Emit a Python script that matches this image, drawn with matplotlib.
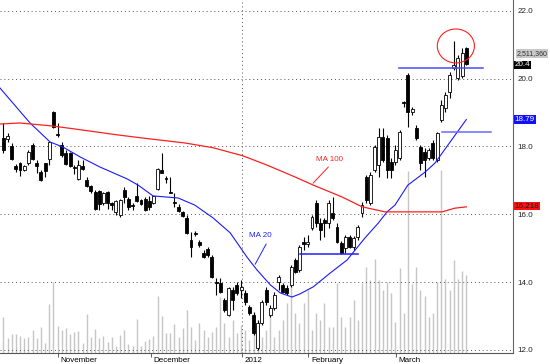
import numpy as np
import matplotlib
matplotlib.use('Agg')
import matplotlib.pyplot as plt
from matplotlib import transforms
from matplotlib.patches import Ellipse

plt.rcParams['font.family'] = ['Liberation Sans', 'DejaVu Sans']

# 日足データ（チャートから読み取り）
opens = [18.25, 18.22, 18.01, 17.42, 17.51, 17.30, 17.51, 18.04, 17.51, 17.25,
         17.51, 17.63, 19.01, 18.37, 18.04, 17.81, 17.81, 17.39, 17.04, 17.42,
         17.01, 16.83, 16.66, 16.69, 16.33, 16.66, 16.33, 16.07, 15.98, 16.72,
         16.45, 16.27, 16.54, 16.42, 16.45, 16.39, 16.33, 16.74, 17.30, 17.07,
         16.66, 16.36, 16.21, 16.07, 15.89, 15.24, 15.45, 15.18, 14.86, 14.98,
         14.74, 14.00, 13.97, 13.47, 13.03, 13.77, 13.92, 13.77, 13.68, 13.27,
         13.03, 12.06, 12.80, 13.77, 13.03, 13.24, 14.00, 13.92, 13.83, 13.92,
         14.65, 14.36, 15.18, 15.12, 15.60, 16.33, 15.74, 15.83, 15.74, 16.04,
         15.63, 15.15, 15.01, 15.33, 15.04, 15.33, 16.04, 17.10, 16.33, 17.30,
         17.45, 18.28, 18.25, 17.54, 17.54, 17.66, 19.31, 20.10, 19.01, 18.54,
         17.98, 17.84, 17.66, 18.10, 17.60, 18.78, 19.13, 19.60, 20.31, 20.02,
         20.08, 20.90]
closes = [17.89, 18.31, 17.63, 17.33, 17.30, 17.42, 17.84, 17.63, 17.42, 17.01,
          17.28, 18.13, 18.57, 18.34, 17.75, 17.48, 17.42, 17.36, 17.45, 17.33,
          16.83, 16.69, 16.16, 16.30, 16.63, 16.33, 16.27, 16.39, 16.42, 16.51,
          16.21, 16.24, 16.39, 16.30, 16.13, 16.21, 16.54, 17.33, 17.22, 17.04,
          16.63, 16.33, 16.10, 15.95, 15.45, 15.04, 15.42, 15.09, 14.74, 14.80,
          14.15, 13.97, 13.71, 13.18, 13.83, 13.47, 13.68, 13.86, 13.41, 13.09,
          12.50, 12.80, 13.41, 13.41, 13.24, 13.62, 14.15, 13.71, 13.68, 14.45,
          14.30, 15.04, 15.12, 15.18, 15.92, 15.74, 15.54, 15.74, 16.33, 15.89,
          15.18, 14.86, 15.33, 15.04, 15.30, 15.63, 16.27, 16.42, 17.16, 17.98,
          18.28, 17.60, 17.30, 17.30, 17.89, 18.42, 19.28, 19.01, 19.10, 18.25,
          17.51, 17.60, 17.89, 17.66, 18.40, 19.22, 19.52, 20.10, 20.40, 20.61,
          20.75, 20.43]
highs = [18.69, 18.40, 18.10, 17.48, 17.54, 17.45, 17.89, 18.10, 17.60, 17.30,
         17.51, 18.13, 19.04, 18.69, 18.13, 17.89, 17.84, 17.45, 17.60, 17.60,
         17.10, 16.86, 16.72, 16.72, 16.66, 16.69, 16.36, 16.42, 16.45, 16.80,
         16.51, 16.33, 16.92, 16.45, 16.51, 16.54, 16.54, 17.36, 17.81, 17.13,
         17.10, 16.63, 16.30, 16.10, 15.98, 15.48, 15.51, 15.24, 14.95, 15.04,
         14.80, 14.12, 14.12, 13.53, 13.86, 13.86, 14.00, 14.06, 13.77, 13.33,
         13.12, 12.88, 13.47, 13.86, 13.33, 13.71, 14.21, 13.97, 13.92, 14.50,
         14.71, 15.09, 15.33, 15.39, 15.98, 16.42, 15.89, 15.89, 16.42, 16.51,
         15.74, 15.21, 15.39, 15.39, 15.36, 15.69, 16.36, 17.16, 17.25, 18.04,
         18.54, 18.54, 18.34, 17.66, 18.04, 18.48, 19.34, 20.16, 19.16, 18.63,
         18.04, 17.95, 17.95, 18.19, 18.42, 19.37, 19.60, 20.19, 21.11, 20.69,
         20.90, 20.93]
lows = [17.81, 18.13, 17.60, 17.25, 17.13, 17.28, 17.45, 17.60, 17.22, 16.98,
        17.10, 17.45, 18.54, 18.28, 17.69, 17.45, 17.39, 17.19, 17.01, 17.30,
        16.80, 16.63, 16.13, 16.13, 16.27, 16.16, 16.13, 15.98, 15.92, 16.33,
        16.13, 16.13, 16.36, 16.27, 16.10, 16.13, 16.30, 16.72, 17.22, 16.92,
        16.63, 16.21, 16.07, 15.92, 15.42, 14.74, 15.36, 15.04, 14.71, 14.74,
        14.12, 13.62, 13.68, 13.12, 13.00, 13.18, 13.62, 13.53, 13.33, 13.03,
        12.44, 12.00, 12.74, 13.33, 12.97, 13.18, 13.77, 13.68, 13.62, 13.86,
        14.27, 14.30, 14.95, 15.04, 15.54, 15.63, 15.24, 15.33, 15.60, 15.83,
        15.15, 14.83, 14.86, 15.01, 14.95, 15.24, 15.92, 16.33, 16.27, 17.25,
        17.10, 17.54, 17.07, 17.07, 17.45, 17.60, 19.16, 18.57, 18.93, 18.19,
        17.30, 17.10, 17.60, 17.60, 17.54, 18.72, 19.01, 19.43, 20.25, 19.96,
        20.02, 20.40]
# 出来高（百万株）
volume_m = [1.16, 0.48, 0.61, 0.61, 0.55, 0.48, 0.52, 0.74, 0.48, 0.84,
            0.32, 1.58, 2.29, 0.87, 0.74, 0.80, 0.61, 0.68, 0.71, 0.32,
            1.26, 0.52, 0.77, 0.48, 0.55, 0.35, 0.52, 0.23, 0.58, 0.74,
            0.29, 0.23, 1.09, 0.23, 0.39, 0.45, 0.55, 1.84, 1.19, 0.64,
            0.64, 0.93, 0.52, 0.80, 1.38, 0.84, 0.42, 0.97, 0.74, 0.52,
            0.68, 0.84, 1.80, 0.97, 0.52, 1.06, 0.64, 0.90, 0.74, 0.42,
            1.29, 1.06, 0.52, 0.74, 1.29, 0.52, 0.74, 1.06, 1.61, 2.25,
            1.29, 0.97, 1.61, 2.03, 0.74, 1.29, 1.06, 1.61, 0.84, 0.84,
            2.25, 1.16, 0.84, 1.16, 1.71, 1.06, 2.25, 2.77, 2.35, 3.03,
            2.35, 2.03, 2.29, 1.93, 1.00, 2.74, 1.29, 5.86, 2.22, 2.77,
            2.03, 1.84, 1.16, 1.29, 2.29, 5.89, 2.38, 2.03, 2.99, 2.38,
            2.64, 2.51]

# 移動平均（読み取り値：バー番号, 値）
ma20_idx = [-0.8, 6.4, 11.2, 14.3, 18.4, 23.2, 29.7, 32.3, 35.9, 41.9, 45.9, 50.3,
            54.4, 58.4, 60.8, 64.0, 66.4, 69.2, 71.1, 74.3, 78.4, 82.4, 86.7, 89.9,
            92.0, 93.9, 97.0, 101.1, 103.5, 106.6, 111]
ma20_val = [19.72, 18.69, 18.13, 17.98, 17.69, 17.39, 17.04, 16.86, 16.54, 16.48, 16.27, 15.89,
            15.45, 14.74, 14.36, 13.92, 13.68, 13.56, 13.65, 13.86, 14.27, 14.65, 15.30, 15.74,
            16.07, 16.27, 16.86, 17.24, 17.51, 18.04, 18.79]
ma100_idx = [-0.8, 4.0, 11.9, 19.1, 27.3, 35.2, 43.6, 50.3, 57.5, 63.2, 69.9, 74.3,
             81.2, 86.0, 91.5, 98.7, 105.2, 108.3, 111]
ma100_val = [18.66, 18.69, 18.60, 18.48, 18.34, 18.22, 18.10, 17.96, 17.72, 17.45, 17.10, 16.86,
             16.51, 16.22, 16.07, 16.07, 16.07, 16.18, 16.218]

month_pos = [13, 35.3, 57.2, 73.1, 94.1]
month_labels = ['November', 'December', '2012', 'February', 'March']
price_ticks = [12.0, 14.0, 16.0, 18.0, 20.0, 22.0]

fig = plt.figure(figsize=(5.5, 3.64), dpi=100)
ax = fig.add_axes([0, 11 / 364, 513 / 550, 353 / 364])
ax2 = ax.twinx()
ax.set_zorder(2)
ax2.set_zorder(1)
ax.patch.set_visible(False)

x = np.arange(len(opens))
o = np.array(opens)
c = np.array(closes)

# 出来高
ax2.vlines(x, 0, volume_m, color='#c6c6c6', lw=1.0)
ax2.set_ylim(0, 11.365)
ax2.set_yticks([])
for s in ax2.spines.values():
    s.set_visible(False)

# グリッド
for t in price_ticks:
    ax.axhline(t, color='#555555', lw=0.7, ls=(0, (1, 3)), zorder=0)
ax.axvline(month_pos[2], color='#555555', lw=0.7, ls=(0, (1, 3)), zorder=0)

# ローソク足
ax.vlines(x, lows, highs, color='black', lw=0.8, zorder=3)
body_h = np.maximum(np.abs(c - o), 0.02)
fill = ['white' if cc >= oo else 'black' for oo, cc in zip(o, c)]
ax.bar(x, body_h, bottom=np.minimum(o, c), width=0.7, color=fill,
       edgecolor='black', linewidth=0.6, zorder=4)

# 移動平均
ax.plot(ma20_idx, ma20_val, color='#1a1aff', lw=0.8, zorder=5)
ax.plot(ma100_idx, ma100_val, color='#ff2020', lw=0.9, zorder=5)

# 注記
ax.text(61.6, 15.36, 'MA 20', color='#2020ff', fontsize=5.8, ha='center', va='center')
ax.plot([63.0, 60.4], [15.12, 14.53], color='#2020ff', lw=0.7)
ax.text(78.1, 17.61, 'MA 100', color='#ff2020', fontsize=5.8, ha='center', va='center')
ax.plot([77.9, 74.3], [17.39, 16.92], color='#ff2020', lw=0.7)

ax.plot([71.2, 85.1], [14.83, 14.83], color='#2020ff', lw=1.1, zorder=6)
ax.plot([94.9, 115.0], [20.31, 20.31], color='#4a4aff', lw=1.1, zorder=6)
ax.plot([105.1, 116.9], [18.43, 18.43], color='#6a6aff', lw=1.1, zorder=6)
ax.add_patch(Ellipse((108.5, 20.96), 8.9, 1.0, fill=False, edgecolor='#ff2020', lw=0.8, zorder=6))

ax.set_xlim(-0.8, 122.2)
ax.set_ylim(11.91, 22.315)

# 軸
ax.set_yticks(price_ticks)
ax.set_yticklabels(['%.1f' % t for t in price_ticks], fontsize=5.8, color='#222222')
ax.yaxis.tick_right()
ax.tick_params(axis='y', length=0, pad=3)
ax.set_xticks(month_pos)
ax.set_xticklabels([])
ax.tick_params(axis='x', length=3, width=0.6, color='#444444', direction='out')
for side in ['top', 'left']:
    ax.spines[side].set_visible(False)
ax.spines['bottom'].set_color('#555555')
ax.spines['right'].set_color('#666666')
ax.spines['bottom'].set_linewidth(0.8)
ax.spines['right'].set_linewidth(0.8)

lab_tr = transforms.offset_copy(ax.get_xaxis_transform(), fig=fig, x=2, y=-3, units='points')
for p, lab in zip(month_pos, month_labels):
    ax.text(p, 0, lab, transform=lab_tr, fontsize=5.8, ha='left', va='top')

# 右側の値ラベル
rt = transforms.blended_transform_factory(ax.transAxes, ax.transData)
rt_in = transforms.offset_copy(rt, fig=fig, x=1.3, units='points')
ax.text(1.0, 20.74, '2,511,360', transform=transforms.offset_copy(rt, fig=fig, x=2.6, units='points'),
        fontsize=5.0, color='#333333', va='center', ha='left', clip_on=False,
        bbox=dict(boxstyle='square,pad=0.1', fc='#c8c8c8', ec='none'))
ax.text(1.0, 20.40, '20.4', transform=rt_in, fontsize=5.8, color='white', va='center', ha='left',
        clip_on=False, bbox=dict(boxstyle='square,pad=0.1', fc='black', ec='none'))
ax.text(1.0, 18.79, '18.79', transform=rt_in, fontsize=5.8, color='white', va='center', ha='left',
        clip_on=False, bbox=dict(boxstyle='square,pad=0.15', fc='#1010ff', ec='none'))
ax.text(1.0, 16.24, '16.218', transform=rt_in, fontsize=5.8, color='#111111', va='center', ha='left',
        clip_on=False, bbox=dict(boxstyle='square,pad=0.1', fc='#ff1010', ec='none'))

fig.savefig('out.png', dpi=100)
